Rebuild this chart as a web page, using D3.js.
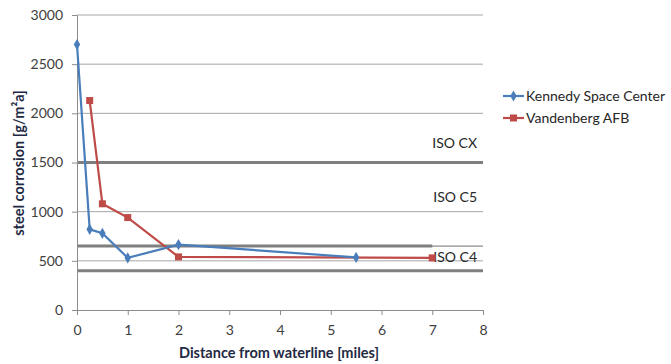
<!doctype html>
<html lang="en">
<head>
<meta charset="utf-8">
<script src="https://cdn.jsdelivr.net/npm/d3@7"></script>
<style>
  body { margin: 0; background: #fff; }
  svg { font-family: Lato, sans-serif; }
</style>
</head>
<body>
<svg></svg>
<script>
var width = 671, height = 364;

// data
var kennedyX = [0, 0.25, 0.5, 1, 2, 5.5];
var kennedyY = [2700, 820, 780, 530, 665, 535];
var vandenX = [0.25, 0.5, 1, 2, 7];
var vandenY = [2130, 1080, 940, 540, 530];
var xTicks = [0, 1, 2, 3, 4, 5, 6, 7, 8];
var yTicks = [0, 500, 1000, 1500, 2000, 2500, 3000];
var isoLabels = ["ISO CX", "ISO C5", "ISO C4"];
var isoLabelY = [1700, 1150, 540];

var svg = d3.select("svg").attr("width", width).attr("height", height);

var x = d3.scaleLinear().domain([0, 8]).range([77, 483]);
var y = d3.scaleLinear().domain([0, 3000]).range([310, 15]);

// gridlines
svg.selectAll(".grid").data(yTicks.slice(1)).enter().append("line")
  .attr("x1", x(0)).attr("x2", x(8))
  .attr("y1", function (d) { return y(d); }).attr("y2", function (d) { return y(d); })
  .attr("stroke", "#a6a6a6").attr("stroke-width", 1);

// ISO limit lines
svg.append("line").attr("x1", x(0)).attr("x2", x(8)).attr("y1", y(1500)).attr("y2", y(1500))
  .attr("stroke", "#7f7f7f").attr("stroke-width", 3);
svg.append("line").attr("x1", x(0)).attr("x2", x(8)).attr("y1", y(650)).attr("y2", y(650))
  .attr("stroke", "#8c8c8c").attr("stroke-width", 1.2);
svg.append("line").attr("x1", x(0)).attr("x2", x(7)).attr("y1", y(650)).attr("y2", y(650))
  .attr("stroke", "#7f7f7f").attr("stroke-width", 3);
svg.append("line").attr("x1", x(0)).attr("x2", x(8)).attr("y1", y(400)).attr("y2", y(400))
  .attr("stroke", "#7f7f7f").attr("stroke-width", 3);

// axes
var xAxis = svg.append("g").attr("transform", "translate(0," + y(0) + ")")
  .call(d3.axisBottom(x).tickValues(xTicks).tickSize(5).tickSizeOuter(0).tickFormat(d3.format("d")));
var yAxis = svg.append("g").attr("transform", "translate(" + x(0) + ",0)")
  .call(d3.axisLeft(y).tickValues(yTicks).tickSize(5).tickSizeOuter(0).tickFormat(d3.format("d")));
[xAxis, yAxis].forEach(function (g) {
  g.select(".domain").attr("stroke", "#8c8c8c");
  g.selectAll(".tick line").attr("stroke", "#8c8c8c");
  g.selectAll(".tick text").attr("fill", "#404040").attr("font-size", "14px")
    .attr("font-family", "Lato, sans-serif");
});
xAxis.selectAll(".tick text").attr("dy", "1.2em");
yAxis.selectAll(".tick text").attr("x", -14);

// ISO labels
svg.selectAll(".iso").data(isoLabels).enter().append("text")
  .attr("x", 477).attr("y", function (d, i) { return y(isoLabelY[i]) + 5; })
  .attr("text-anchor", "end").attr("font-size", "14px").attr("fill", "#262626")
  .text(function (d) { return d; });

// series
var line = d3.line().x(function (d) { return x(d[0]); }).y(function (d) { return y(d[1]); });
var kData = kennedyX.map(function (d, i) { return [d, kennedyY[i]]; });
var vData = vandenX.map(function (d, i) { return [d, vandenY[i]]; });
var blue = "#4a7ebb", red = "#be4b48";

svg.append("path").datum(vData).attr("d", line).attr("fill", "none").attr("stroke", red).attr("stroke-width", 2.2);
svg.selectAll(".vpt").data(vData).enter().append("rect")
  .attr("x", function (d) { return x(d[0]) - 3.5; }).attr("y", function (d) { return y(d[1]) - 3.5; })
  .attr("width", 7).attr("height", 7).attr("fill", red);

svg.append("path").datum(kData).attr("d", line).attr("fill", "none").attr("stroke", blue).attr("stroke-width", 2.2);
var diamond = d3.symbol().type(d3.symbolDiamond).size(36);
svg.selectAll(".kpt").data(kData).enter().append("path")
  .attr("d", diamond)
  .attr("transform", function (d) { return "translate(" + x(d[0]) + "," + y(d[1]) + ")"; })
  .attr("fill", blue);

// legend
var legend = [["Kennedy Space Center", blue, "d"], ["Vandenberg AFB", red, "s"]];
legend.forEach(function (l, i) {
  var ly = 96 + i * 22;
  svg.append("line").attr("x1", 503).attr("x2", 524).attr("y1", ly).attr("y2", ly)
    .attr("stroke", l[1]).attr("stroke-width", 2.2);
  if (l[2] === "d") {
    svg.append("path").attr("d", diamond).attr("transform", "translate(513.5," + ly + ")").attr("fill", l[1]);
  } else {
    svg.append("rect").attr("x", 510).attr("y", ly - 3.5).attr("width", 7).attr("height", 7).attr("fill", l[1]);
  }
  svg.append("text").attr("x", 526).attr("y", ly + 5).attr("font-size", "14px").attr("fill", "#262626")
    .text(l[0]);
});

// axis titles
svg.append("text").attr("x", 279).attr("y", 358).attr("text-anchor", "middle")
  .attr("font-size", "14.5px").attr("font-weight", "bold").attr("fill", "#1f2a44")
  .text("Distance from waterline [miles]");
svg.append("text").attr("transform", "translate(24,163) rotate(-90)").attr("text-anchor", "middle")
  .attr("font-size", "14.5px").attr("font-weight", "bold").attr("fill", "#1f2a44")
  .text("steel corrosion [g/m²a]");
</script>
</body>
</html>
